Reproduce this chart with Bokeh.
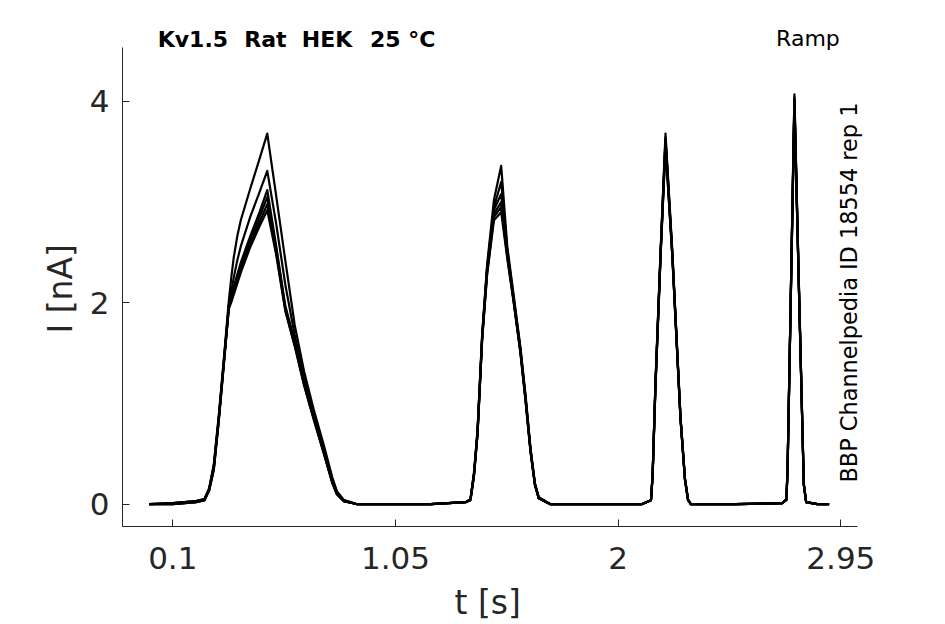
import math
from bokeh.plotting import figure
from bokeh.models import Range1d, FixedTicker, Label, Title
from bokeh.embed import file_html
from bokeh.resources import INLINE

# ---- data (time in s, current in nA) ----
T = [0.0, 0.10, 0.20, 0.235, 0.255, 0.275, 0.296, 0.318, 0.339, 0.35, 0.36, 0.375,
     0.39, 0.43, 0.47, 0.503, 0.54, 0.58, 0.62, 0.66, 0.70, 0.745, 0.78, 0.80,
     0.83, 0.887,
     1.0, 1.2, 1.35, 1.37, 1.385, 1.40, 1.42, 1.441, 1.47, 1.501, 1.527, 1.555,
     1.583, 1.605, 1.626, 1.645, 1.661, 1.711,
     1.9, 2.1, 2.140, 2.147, 2.159, 2.181, 2.202, 2.231, 2.266, 2.285, 2.298, 2.31,
     2.5, 2.70, 2.718, 2.723, 2.735, 2.752, 2.771, 2.792, 2.802, 2.85, 2.90]

I_rep_a = [0.0, 0.01, 0.03, 0.05, 0.16, 0.40, 0.88, 1.45, 2.02, 2.26, 2.45, 2.66,
           2.82, 3.13, 3.43, 3.68, 3.08, 2.42, 1.78, 1.32, 0.95, 0.58, 0.27, 0.13,
           0.04, 0.0,
           0.0, 0.0, 0.02, 0.05, 0.32, 0.74, 1.70, 2.38, 3.02, 3.36, 2.56, 2.06,
           1.56, 1.08, 0.56, 0.21, 0.07, 0.0,
           0.0, 0.0, 0.04, 0.30, 1.20, 2.52, 3.68, 2.52, 0.87, 0.26, 0.05, 0.0,
           0.0, 0.01, 0.05, 0.40, 1.90, 4.07, 2.20, 0.21, 0.02, 0.0, 0.0]
I_rep_b = [0.0, 0.01, 0.03, 0.05, 0.15, 0.38, 0.86, 1.43, 1.98, 2.12, 2.25, 2.42,
           2.56, 2.85, 3.10, 3.31, 2.80, 2.18, 1.68, 1.26, 0.91, 0.55, 0.25, 0.12,
           0.04, 0.0,
           0.0, 0.0, 0.02, 0.05, 0.30, 0.72, 1.68, 2.35, 2.95, 3.20, 2.52, 2.04,
           1.54, 1.06, 0.55, 0.20, 0.07, 0.0,
           0.0, 0.0, 0.04, 0.29, 1.18, 2.50, 3.64, 2.50, 0.86, 0.25, 0.05, 0.0,
           0.0, 0.01, 0.05, 0.38, 1.88, 4.04, 2.18, 0.20, 0.02, 0.0, 0.0]
I_rep_c = [0.0, 0.01, 0.03, 0.05, 0.15, 0.37, 0.85, 1.42, 1.97, 2.07, 2.16, 2.28,
           2.40, 2.66, 2.90, 3.12, 2.58, 1.97, 1.62, 1.21, 0.88, 0.52, 0.23, 0.11,
           0.03, 0.0,
           0.0, 0.0, 0.02, 0.05, 0.30, 0.71, 1.67, 2.34, 2.92, 3.08, 2.50, 2.02,
           1.53, 1.05, 0.54, 0.20, 0.06, 0.0,
           0.0, 0.0, 0.04, 0.29, 1.18, 2.49, 3.62, 2.49, 0.86, 0.25, 0.05, 0.0,
           0.0, 0.01, 0.05, 0.38, 1.87, 4.02, 2.17, 0.20, 0.02, 0.0, 0.0]
I_rep_d = [0.0, 0.0, 0.02, 0.04, 0.14, 0.36, 0.84, 1.41, 1.96, 2.05, 2.13, 2.25,
           2.36, 2.62, 2.85, 3.05, 2.55, 1.95, 1.60, 1.20, 0.87, 0.51, 0.22, 0.10,
           0.03, 0.0,
           0.0, 0.0, 0.02, 0.05, 0.29, 0.70, 1.66, 2.32, 2.88, 3.00, 2.48, 2.01,
           1.52, 1.04, 0.53, 0.19, 0.06, 0.0,
           0.0, 0.0, 0.04, 0.28, 1.17, 2.48, 3.60, 2.48, 0.85, 0.25, 0.04, 0.0,
           0.0, 0.01, 0.05, 0.37, 1.86, 4.00, 2.16, 0.20, 0.02, 0.0, 0.0]
I_rep_e = [0.0, 0.0, 0.02, 0.04, 0.14, 0.35, 0.83, 1.40, 1.95, 2.03, 2.10, 2.22,
           2.33, 2.58, 2.80, 2.98, 2.52, 1.93, 1.58, 1.19, 0.86, 0.50, 0.22, 0.10,
           0.03, 0.0,
           0.0, 0.0, 0.02, 0.04, 0.29, 0.70, 1.65, 2.30, 2.85, 2.95, 2.46, 2.00,
           1.51, 1.03, 0.53, 0.19, 0.06, 0.0,
           0.0, 0.0, 0.04, 0.28, 1.16, 2.47, 3.57, 2.47, 0.85, 0.24, 0.04, 0.0,
           0.0, 0.01, 0.04, 0.37, 1.85, 3.98, 2.15, 0.19, 0.02, 0.0, 0.0]
I_rep_f = [0.0, 0.0, 0.02, 0.04, 0.13, 0.34, 0.82, 1.39, 1.94, 2.01, 2.08, 2.19,
           2.30, 2.55, 2.76, 2.92, 2.49, 1.92, 1.57, 1.18, 0.85, 0.50, 0.21, 0.10,
           0.03, 0.0,
           0.0, 0.0, 0.02, 0.04, 0.28, 0.69, 1.64, 2.28, 2.82, 2.90, 2.44, 1.99,
           1.50, 1.02, 0.52, 0.19, 0.06, 0.0,
           0.0, 0.0, 0.04, 0.27, 1.15, 2.46, 3.55, 2.46, 0.84, 0.24, 0.04, 0.0,
           0.0, 0.01, 0.04, 0.36, 1.84, 3.96, 2.14, 0.19, 0.02, 0.0, 0.0]

traces = [I_rep_a, I_rep_b, I_rep_c, I_rep_d, I_rep_e, I_rep_f]

x_ticks = [0.1, 1.05, 2, 2.95]
x_tick_labels = ["0.1", "1.05", "2", "2.95"]
y_ticks = [0, 2, 4]
y_tick_labels = ["0", "2", "4"]

title_words = ["Kv1.5", "Rat", "HEK", "25 °C"]   # "Kv1.5  Rat  HEK  25 °C"
title_word_x = [0.0356, 0.4046, 0.6503, 0.9409]
protocol_text = "Ramp"
id_text = "BBP Channelpedia ID 18554 rep 1"
x_label = "t [s]"
y_label = "I [nA]"

FONT = "DejaVu Sans"
AX = "#262626"

X_AXIS_END = 3.0198
Y_AXIS_END = 4.538
X0, X1 = -0.1146, 3.2259
Y0, Y1 = -0.2214, 4.9027

p = figure(frame_width=783, frame_height=516, output_backend="svg",
           toolbar_location=None,
           x_range=Range1d(X0, X1), y_range=Range1d(Y0, Y1),
           min_border_left=122, min_border_right=40, min_border_top=10,
           min_border_bottom=98)
p.outline_line_color = None
p.grid.visible = False
p.background_fill_color = "white"
p.border_fill_color = "white"

for tr in traces:
    p.line(T, tr, line_color="black", line_width=2.2, line_join="round")

for ax in (p.xaxis[0], p.yaxis[0]):
    ax.axis_line_color = AX
    ax.axis_line_width = 1
    ax.major_tick_line_color = AX
    ax.major_tick_in = 7
    ax.major_tick_out = 0
    ax.minor_tick_line_color = None
    ax.major_label_text_font = FONT
    ax.major_label_text_font_size = "31px"
    ax.major_label_text_color = AX

p.xaxis[0].bounds = (X0, X_AXIS_END)
p.yaxis[0].bounds = (Y0, Y_AXIS_END)
p.xaxis[0].ticker = FixedTicker(ticks=x_ticks)
p.xaxis[0].major_label_overrides = dict(zip(x_ticks, x_tick_labels))
p.xaxis[0].major_label_standoff = 20
p.yaxis[0].ticker = FixedTicker(ticks=y_ticks)
p.yaxis[0].major_label_overrides = dict(zip(y_ticks, y_tick_labels))
p.yaxis[0].major_label_standoff = 13

# axis titles (placed against the drawn axis lines, not the wider frame)
p.add_layout(Title(text=x_label, align="left", offset=332, standoff=18,
                   text_font=FONT, text_font_size="33px",
                   text_font_style="normal", text_color=AX), "below")
p.add_layout(Title(text=y_label, align="left", offset=193, standoff=14,
                   text_font=FONT, text_font_size="33px",
                   text_font_style="normal", text_color=AX), "left")

for word, wx in zip(title_words, title_word_x):
    p.add_layout(Label(x=wx, y=4.6175, text=word, text_font=FONT,
                       text_font_style="bold", text_font_size="22px",
                       text_color="black", text_align="left",
                       text_baseline="alphabetic"))
p.add_layout(Label(x=2.9456, y=4.6245, text=protocol_text, text_font=FONT,
                   text_font_size="22px", text_color="black",
                   text_align="right", text_baseline="alphabetic"))
p.add_layout(Label(x=2.9857, y=0.2155, text=id_text, text_font=FONT,
                   text_font_size="22.4px", text_color="black", angle=math.pi / 2,
                   text_align="left", text_baseline="alphabetic"))

open("out.html", "w").write(file_html(p, INLINE))
